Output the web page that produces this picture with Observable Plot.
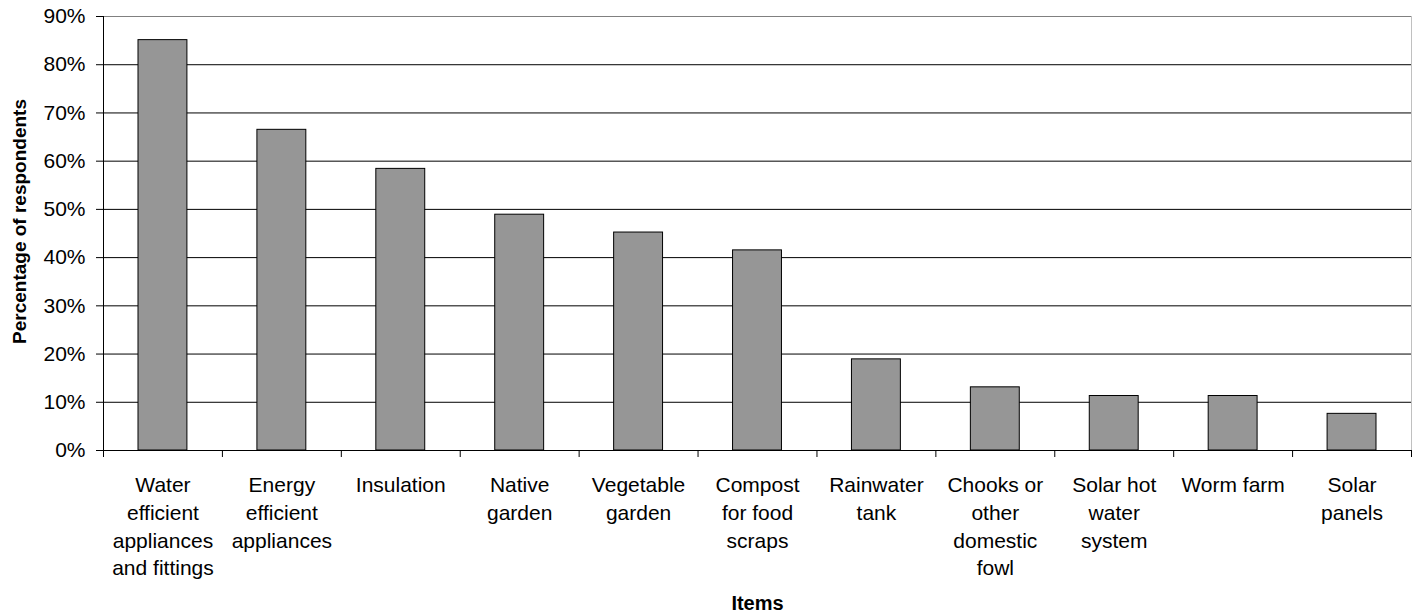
<!DOCTYPE html>
<html>
<head>
<meta charset="utf-8">
<script src="https://cdn.jsdelivr.net/npm/d3@7"></script>
<script src="https://cdn.jsdelivr.net/npm/@observablehq/plot@0.6"></script>
<style>
  html, body { margin: 0; padding: 0; background: #fff; }
  #chart svg { display: block; }
</style>
</head>
<body>
<div id="chart"></div>
<script>
const items = [
  "Water\nefficient\nappliances\nand fittings",
  "Energy\nefficient\nappliances",
  "Insulation",
  "Native\ngarden",
  "Vegetable\ngarden",
  "Compost\nfor food\nscraps",
  "Rainwater\ntank",
  "Chooks or\nother\ndomestic\nfowl",
  "Solar hot\nwater\nsystem",
  "Worm farm",
  "Solar\npanels"
];
const percentages = [0.851, 0.665, 0.584, 0.489, 0.452, 0.415, 0.189, 0.131, 0.113, 0.113, 0.076];
const yTicks = [0, 0.1, 0.2, 0.3, 0.4, 0.5, 0.6, 0.7, 0.8, 0.9];
const gridTicks = [0.1, 0.2, 0.3, 0.4, 0.5, 0.6, 0.7, 0.8];
const yTitle = "Percentage of respondents";
const xTitle = "Items";

const data = items.map((label, i) => ({i, label, value: percentages[i]}));
const n = items.length;
const boundaries = d3.range(0, n + 1);
const centers = d3.range(0, n).map(i => i + 0.5);

const font = "'Liberation Sans', Arial, Helvetica, sans-serif";

const chart = Plot.plot({
  width: 1417,
  height: 615,
  marginLeft: 103,
  marginRight: 6,
  marginTop: 16,
  marginBottom: 165,
  style: {fontFamily: font, background: "#fff", color: "#000"},
  x: {type: "linear", domain: [0, n]},
  y: {domain: [0, 0.9]},
  marks: [
    Plot.ruleY(gridTicks, {stroke: "#000", strokeWidth: 1}),
    Plot.ruleY([0.9], {stroke: "#808080", strokeWidth: 1}),
    Plot.ruleX([n], {stroke: "#c0c0c0", strokeWidth: 1}),
    Plot.rectY(data, {
      x1: "i",
      x2: d => d.i + 1,
      y: "value",
      insetLeft: 35,
      insetRight: 35,
      fill: "#969696",
      stroke: "#000",
      strokeWidth: 1
    }),
    Plot.ruleY([0], {stroke: "#000", strokeWidth: 1}),
    Plot.ruleX([0], {stroke: "#000", strokeWidth: 1}),
    Plot.axisY({
      ticks: yTicks,
      tickFormat: d3.format(".0%"),
      tickSize: 7,
      tickPadding: 11,
      fontSize: 21,
      label: null,
      stroke: "#000"
    }),
    Plot.axisX({
      ticks: boundaries,
      tickFormat: () => "",
      tickSize: 7,
      label: null,
      stroke: "#000"
    }),
    Plot.axisX({
      ticks: centers,
      tickFormat: d => items[Math.round(d - 0.5)],
      tickSize: 0,
      tickPadding: 22,
      fontSize: 21,
      lineHeight: 1.32,
      lineAnchor: "top",
      label: null
    }),
    Plot.text([yTitle], {
      frameAnchor: "left",
      textAnchor: "middle",
      dx: -84,
      dy: -12,
      rotate: -90,
      fontSize: 19,
      fontWeight: "bold",
      fill: "#000"
    }),
    Plot.text([xTitle], {
      frameAnchor: "bottom",
      dy: 159,
      fontSize: 20,
      fontWeight: "bold",
      fill: "#000"
    })
  ]
});

document.getElementById("chart").appendChild(chart);
</script>
</body>
</html>
